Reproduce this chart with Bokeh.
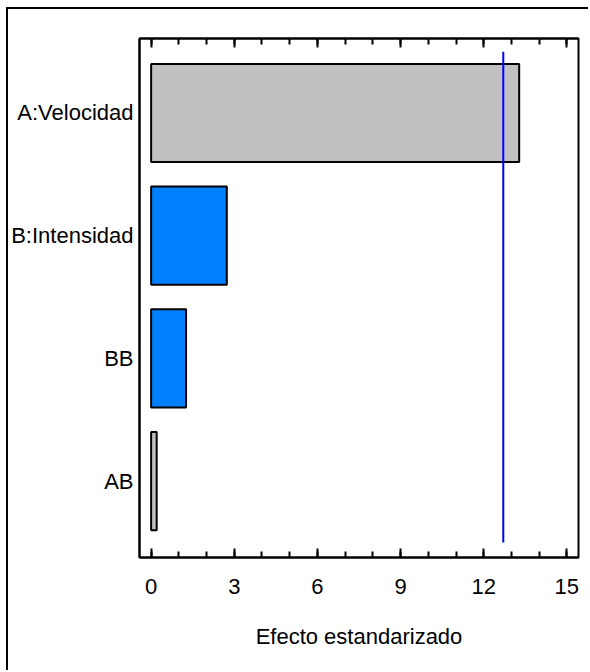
from bokeh.plotting import figure
from bokeh.models import Range1d, LinearAxis, SingleIntervalTicker, FixedTicker, ColumnDataSource
from bokeh.embed import file_html
from bokeh.resources import INLINE

# Data (bottom to top)
categories = ["AB", "BB", "B:Intensidad", "A:Velocidad"]
effects = [0.20, 1.26, 2.73, 13.28]
colors = ["#C0C0C0", "#0080FF", "#0080FF", "#C0C0C0"]
critical = 12.706
x_ticks = [0, 3, 6, 9, 12, 15]

FONT = "Liberation Sans"
FS = "22px"

positions = list(range(1, len(categories) + 1))
src = ColumnDataSource(dict(y=positions, right=effects, color=colors))

p = figure(width=582, height=663, output_backend="svg", toolbar_location=None,
           x_range=Range1d(-0.42, 15.42), y_range=Range1d(0.377, 4.607),
           min_border_left=131, min_border_right=12, min_border_top=29,
           min_border_bottom=115, x_axis_location=None, y_axis_location=None)
p.styles = {"border-top": "2px solid black", "border-left": "2px solid black",
            "margin-left": "6px", "margin-top": "7px"}

p.hbar(y="y", left=0, right="right", height=0.8, fill_color="color",
       line_color="black", line_width=2, source=src)
p.segment(x0=[critical], x1=[critical], y0=[positions[0] - 0.5], y1=[positions[-1] + 0.5],
          line_color="#0000FF", line_width=2)

p.xgrid.visible = False
p.ygrid.visible = False
p.outline_line_color = "black"
p.outline_line_width = 2
p.outline_line_alpha = 1

def style_x(ax, labels=True):
    ax.ticker = SingleIntervalTicker(interval=3, num_minor_ticks=3)
    ax.axis_line_width = 2
    ax.major_tick_in = 9
    ax.major_tick_out = 0
    ax.minor_tick_in = 6
    ax.minor_tick_out = 0
    ax.major_tick_line_width = 2
    ax.minor_tick_line_width = 2
    ax.major_label_text_font = FONT
    ax.major_label_text_font_size = FS
    ax.major_label_text_color = "black" if labels else None

xb = LinearAxis(axis_label="Efecto estandarizado")
style_x(xb)
xb.major_label_standoff = 21
xb.axis_label_standoff = 27
xb.axis_label_text_font = FONT
xb.axis_label_text_font_size = FS
xb.axis_label_text_font_style = "normal"
xb.axis_label_text_color = "black"
p.add_layout(xb, "below")

xa = LinearAxis()
style_x(xa, labels=False)
xa.major_label_text_font_size = "1px"
p.add_layout(xa, "above")

yl = LinearAxis(ticker=FixedTicker(ticks=positions))
yl.major_label_overrides = {pos: cat for pos, cat in zip(positions, categories)}
yl.axis_line_width = 2
yl.major_tick_in = 0
yl.major_tick_out = 0
yl.minor_tick_in = 0
yl.minor_tick_out = 0
yl.major_label_standoff = 6
yl.major_label_text_font = FONT
yl.major_label_text_font_size = FS
yl.major_label_text_color = "black"
p.add_layout(yl, "left")

open("out.html", "w").write(file_html(p, INLINE))
